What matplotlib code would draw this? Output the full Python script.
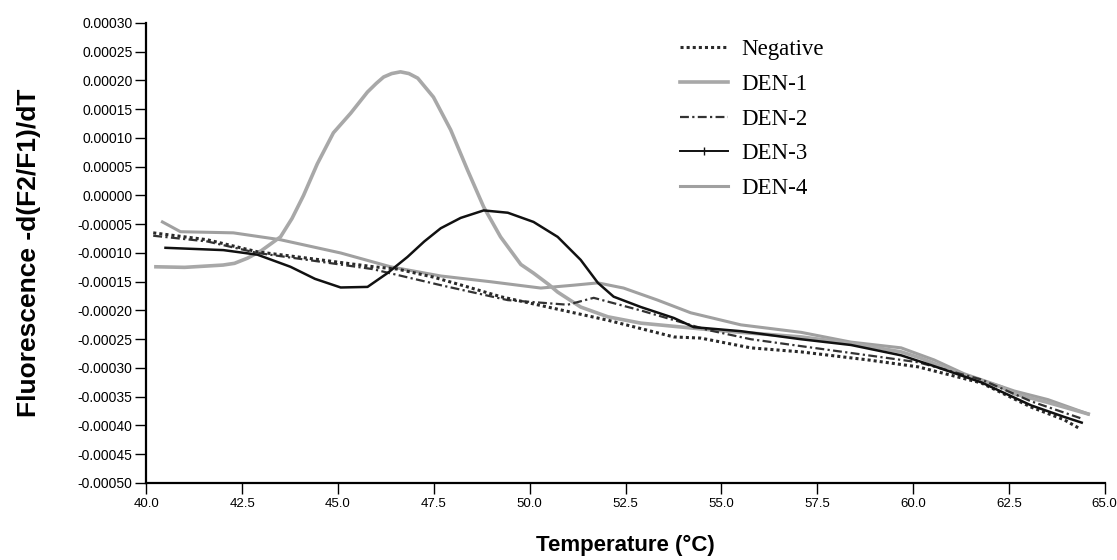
import numpy as np
import matplotlib
matplotlib.use('Agg')
import matplotlib.pyplot as plt
from matplotlib.lines import Line2D
from matplotlib.ticker import FormatStrFormatter


# melt curve data (temperature in C, value in units of 1e-5)
negative_t = [40.18, 41.59, 42.90, 44.20, 45.93, 46.55, 47.49, 48.38, 49.24, 50.47, 52.04,
              53.76, 54.46, 55.77, 57.08, 58.83, 60.13, 61.78, 63.08, 63.94, 64.31]
negative_v = [-6.5, -7.7, -9.8, -10.9, -12.4, -12.8, -14.2, -15.9, -17.6, -19.4, -21.7,
              -24.6, -24.8, -26.5, -27.2, -28.6, -29.8, -32.6, -36.8, -39.0, -40.4]

den1_t = [40.25, 41.0, 42.0, 42.3, 42.64, 43.0, 43.5, 43.8, 44.1, 44.46, 44.88, 45.33, 45.77,
          46.0, 46.19, 46.4, 46.63, 46.85, 47.08, 47.49, 47.94, 48.38, 48.80, 49.24, 49.77,
          50.10, 50.5, 50.73, 51.33, 52.04, 52.90, 54.46, 55.51, 57.08, 58.38, 59.69, 60.21,
          61.33, 62.30, 62.64, 63.52, 64.57]
den1_v = [-12.4, -12.5, -12.1, -11.8, -10.9, -9.6, -7.2, -4.0, 0.0, 5.5, 10.9, 14.3, 18.0,
          19.5, 20.6, 21.2, 21.5, 21.2, 20.4, 17.1, 11.4, 4.4, -2.0, -7.2, -12.0,
          -13.5, -15.5, -16.8, -19.4, -21.1, -22.2, -23.2, -23.8, -24.6, -25.7, -27.2, -28.3,
          -31.3, -33.3, -34.5, -36.0, -38.0]

den2_t = [40.18, 41.59, 42.90, 44.20, 45.90, 47.68, 49.43, 50.99, 51.67, 52.90, 54.65,
          55.77, 57.08, 58.83, 60.13, 61.78, 63.08, 64.40]
den2_v = [-7.0, -8.0, -10.0, -11.2, -12.8, -15.6, -18.2, -19.0, -17.8, -20.0, -23.4,
          -25.0, -26.2, -27.8, -29.0, -32.0, -35.8, -38.8]

den3_t = [40.50, 42.01, 42.90, 43.76, 44.4, 45.07, 45.77, 46.29, 46.81, 47.25, 47.68, 48.20,
          48.80, 49.43, 50.10, 50.73, 51.33, 51.78, 52.19, 52.90, 53.76, 54.28, 55.51, 57.08,
          58.38, 59.69, 60.47, 61.78, 63.08, 63.94, 64.40]
den3_v = [-9.1, -9.5, -10.3, -12.4, -14.5, -16.0, -15.9, -13.5, -10.7, -8.0, -5.7, -3.9,
          -2.6, -3.0, -4.6, -7.2, -11.2, -15.2, -17.6, -19.4, -21.3, -22.9, -23.6, -25.0,
          -26.0, -27.8, -29.5, -32.5, -36.5, -38.5, -39.5]

den4_t = [40.42, 40.89, 42.27, 43.50, 45.07, 46.37, 47.68, 48.98, 50.29, 51.15, 51.78,
          52.45, 53.34, 54.20, 55.51, 57.08, 58.38, 59.69, 60.55, 61.33, 62.64, 63.52, 64.57]
den4_v = [-4.6, -6.3, -6.5, -7.7, -10.0, -12.4, -14.0, -15.0, -16.1, -15.6, -15.2,
          -16.1, -18.2, -20.4, -22.5, -23.8, -25.5, -26.5, -28.6, -31.0, -34.0, -35.5, -38.0]

y_ticks = np.arange(-0.0005, 0.00031, 0.00005)
x_ticks = np.arange(40.0, 65.1, 2.5)

scale = 1e-5

fig = plt.figure(figsize=(11.17, 5.6), dpi=100)
ax = fig.add_axes([0.131, 0.1375, 0.858, 0.8215])

ax.plot(den4_t, np.array(den4_v) * scale, color='#a0a0a0', lw=2.2)
ax.plot(den1_t, np.array(den1_v) * scale, color='#a8a8a8', lw=2.6)
ax.plot(den2_t, np.array(den2_v) * scale, color='#333333', lw=1.6, ls=(0, (4, 1.5, 1, 1.5)))
ax.plot(negative_t, np.array(negative_v) * scale, color='#2a2a2a', lw=2.2, ls=(0, (1, 1)))
ax.plot(den3_t, np.array(den3_v) * scale, color='#111111', lw=1.8)

ax.set_xlim(40, 65)
ax.set_ylim(-0.0005, 0.0003)
ax.set_xticks(x_ticks)
ax.set_yticks(y_ticks)
ax.xaxis.set_major_formatter(FormatStrFormatter('%.1f'))
ax.yaxis.set_major_formatter(FormatStrFormatter('%.5f'))
for label in ax.get_yticklabels():
    label.set_family('Liberation Sans')
    label.set_fontsize(10)
for label in ax.get_xticklabels():
    label.set_family('Liberation Sans')
    label.set_fontsize(9.5)

ax.spines['top'].set_visible(False)
ax.spines['right'].set_visible(False)
ax.spines['left'].set_linewidth(1.6)
ax.spines['bottom'].set_linewidth(1.6)
ax.tick_params(axis='y', length=8, width=1, pad=2)
ax.tick_params(axis='x', length=8, width=1, pad=3)

ax.set_ylabel('Fluorescence -d(F2/F1)/dT', family='Liberation Sans', fontsize=19,
              fontweight='bold', labelpad=26)
ax.set_xlabel('Temperature (\u00b0C)', family='Liberation Sans', fontsize=16,
              fontweight='bold', labelpad=18)

handles = [
    Line2D([], [], color='#2a2a2a', lw=2.2, ls=(0, (1, 1))),
    Line2D([], [], color='#a8a8a8', lw=2.6),
    Line2D([], [], color='#333333', lw=1.6, ls=(0, (4, 1.5, 1, 1.5))),
    Line2D([], [], color='#111111', lw=1.4, marker='|', markersize=6, markevery=[1, 2, 3]),
    Line2D([], [], color='#a0a0a0', lw=2.2),
]
labels = ['Negative', 'DEN-1', 'DEN-2', 'DEN-3', 'DEN-4']
ax.legend(handles, labels, loc='upper left', bbox_to_anchor=(0.545, 0.99), frameon=False,
          prop={'family': 'Liberation Serif', 'size': 16.5}, handlelength=2.1,
          handletextpad=0.55, labelspacing=0.6, borderpad=0)

fig.savefig('out.png', dpi=100)
